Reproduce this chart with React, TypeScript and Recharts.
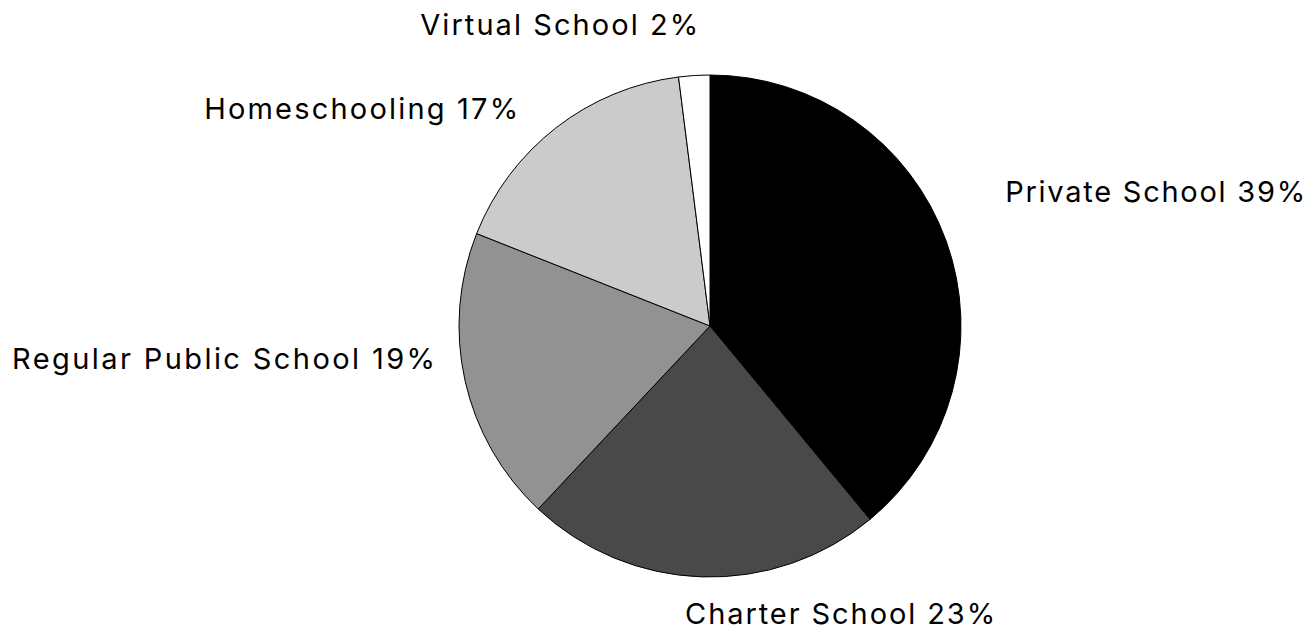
import React from "react";
import { PieChart, Pie, Cell } from "recharts";

const categories = [
  "Private School",
  "Charter School",
  "Regular Public School",
  "Homeschooling",
  "Virtual School",
];
const shares = [39, 23, 19, 17, 2];
const sliceColors = ["#000000", "#494949", "#929292", "#cbcbcb", "#ffffff"];

const data = categories.map((name, i) => ({ name, value: shares[i] }));

// label layout: anchor, nudge from the slice's outer mid-point, target text width
const labelLayout: Record<string, { anchor: "start" | "end"; dx: number; dy: number; w: number }> = {
  "Private School": { anchor: "start", dx: 59, dy: -39, w: 300 },
  "Charter School": { anchor: "start", dx: -17, dy: 47, w: 310 },
  "Regular Public School": { anchor: "end", dx: -30, dy: -12, w: 423 },
  Homeschooling: { anchor: "end", dx: -38, dy: -9, w: 314 },
  "Virtual School": { anchor: "end", dx: 4, dy: -40, w: 278 },
};

const RADIAN = Math.PI / 180;

const renderLabel = (props: any) => {
  const { cx, cy, midAngle, outerRadius, name, value } = props;
  const px = cx + outerRadius * Math.cos(-midAngle * RADIAN);
  const py = cy + outerRadius * Math.sin(-midAngle * RADIAN);
  const l = labelLayout[name];
  return (
    <text
      x={px + l.dx}
      y={py + l.dy}
      textAnchor={l.anchor}
      fill="#000"
      fontFamily="Inter, 'DejaVu Sans', sans-serif"
      fontSize={29}
      textLength={l.w}
      lengthAdjust="spacing"
    >
      {`${name} ${value}%`}
    </text>
  );
};

export default function App() {
  return (
    <div style={{ position: "absolute", left: 0, top: 0, width: 1312, height: 632, background: "#fff" }}>
      <PieChart width={1312} height={632} margin={{ top: 0, right: 0, bottom: 0, left: 0 }}>
        <Pie
          data={data}
          dataKey="value"
          nameKey="name"
          cx={710}
          cy={326}
          outerRadius={251}
          startAngle={90}
          endAngle={-270}
          stroke="#000"
          strokeWidth={1}
          label={renderLabel}
          labelLine={false}
          isAnimationActive={false}
        >
          {data.map((d, i) => (
            <Cell key={d.name} fill={sliceColors[i]} />
          ))}
        </Pie>
      </PieChart>
    </div>
  );
}
